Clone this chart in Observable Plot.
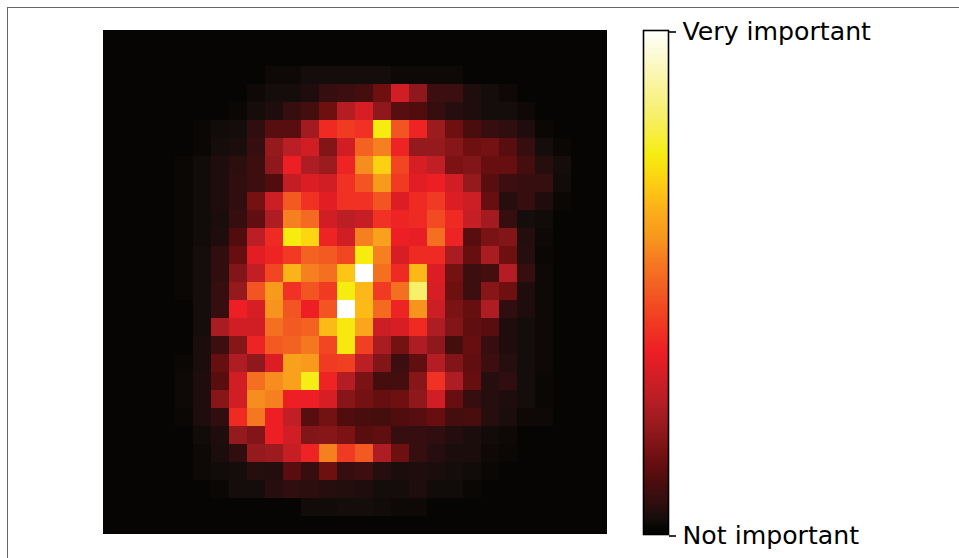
<!DOCTYPE html>
<html>
<head>
<meta charset="utf-8">
<script src="https://cdn.jsdelivr.net/npm/d3@7"></script>
<script src="https://cdn.jsdelivr.net/npm/@observablehq/plot@0.6"></script>
<style>
html,body{margin:0;padding:0;background:#fff;overflow:hidden}
#page{position:relative;width:959px;height:558px;overflow:hidden}
#frame{position:absolute;left:7px;top:7px;width:960px;height:560px;border:1px solid #666;box-sizing:border-box}
#heat,#bar{position:absolute;left:0;top:0}
svg{display:block;background:transparent!important}
</style>
</head>
<body>
<div id="page"><div id="frame"></div><div id="heat"></div><div id="bar"></div></div>
<script>
const tickLabels = ["Not important", "Very important"];
const colorStops = [0, 1, 3, 6, 10, 15, 21, 27, 36, 42, 48, 55, 58, 64, 69, 75, 83, 100];
const colorValues = ["#050503","#060503","#150d0b","#300e0f","#4a0d0e","#6e0f10","#941a1e","#bb1e25","#ed1e24","#f13a22","#f35a22","#f67f20","#f7941d","#fbae1a","#fdcb12","#f6ec10","#f8ef6a","#ffffff"];

const r00 = Array(28).fill(1);
const r01 = Array(28).fill(1);
const r02 = [1,1,1,1,1,1,1,1,1,2,2,3,3,3,3,3,2,2,2,2,1,1,1,1,1,1,1,1];
const r03 = [1,1,1,1,1,1,1,1,2,3,3,4,7,8,9,15,31,20,8,8,4,3,2,1,1,1,1,1];
const r04 = [1,1,1,1,1,1,1,1.5,3,4,7,9,15,26,32,20,12,11,7,5,4,3,3,2,1,1,1,1];
const r05 = [1,1,1,1,1,1.5,2.5,3,6,12,12,23,38.5,42,40,75,47,37,22,15,10,7,6,4,1.5,1,1,1];
const r06 = [1,1,1,1,1,1.5,3,3.5,7,21,27,31,18,31,49.5,55,37,21,21,19,15,16,12,7,3,1.5,1,1];
const r07 = [1,1,1,1,1.5,2.5,4,5.5,8,20,36,25,22,37,57,70,44,32,28,17,18,14,14,9,5,3,1,1];
const r08 = [1,1,1,1,1.5,2.5,4,6,8,11,28,33,31,40,47,59.5,42,34,36,31,21,12,8,7,7,2.5,1,1];
const r09 = [1,1,1,1,1.5,2.5,4,6,16,30,48,40,34,40,40,47,33,38.5,42,33,30,14,5,7,4,1.5,1,1];
const r10 = [1,1,1,1,1.5,2.5,3.5,7,13,25,55,51,31,27,29,40,37,38.5,45,38.5,29,23,7,3,2.5,1,1,1];
const r11 = [1,1,1,1,1.5,2.5,4,11,27,38.5,75,71,37,31,55,61,36,35,52,37,12,17,18,4.5,2,1,1,1];
const r12 = [1,1,1,1,1.5,3,6,14,34,37,42,49.5,48,44,75,55,32,38.5,38.5,24,14,24,15,5,1.5,1,1,1];
const r13 = [1,1,1,1,1.5,3,6,18,28,44,65,55,52,68,100,52,38.5,65.5,33,16,8,9,26,7,2,1,1,1];
const r14 = [1,1,1,1,1.5,3,7,21,47,59.5,40,47,42,75,65.5,42,52,83,32,15,8,19,15,4,2,1,1,1];
const r15 = [1,1,1,1,1,3,7,36,32,58,47,36,47,100,66,51,37,58,30,17,14,25,6,4,2,1,1,1];
const r16 = [1,1,1,1,1,3,24,31,31,52,48,49.5,66,74.5,62,30,32,38.5,25,18,13,12,4,3,2,1,1,1];
const r17 = [1,1,1,1,1,3.5,8,19,37,48,49.5,53.5,44,74.5,43,24,16,25,20,9,14,7,4,3,2,1,1,1];
const r18 = [1,1,1,1,1.5,3.5,14,25,20,33,61,59.5,42,43,27,18,8,13,26,18,13,8,5,3,2,1,1,1];
const r19 = [1,1,1,1,2,4,12,31,52,57,61,75.5,37,26,17,9,9,19,40,25,14,5,6,3,1.5,1,1,1];
const r20 = [1,1,1,1,2,4,19,31,57,55,36,36,32,19,16,14,15,20,31,14,7,5,4,3,1.5,1,1,1];
const r21 = [1,1,1,1,1.5,4,6,38.5,53.5,36,28,12,16,11,10,9,11,12,14,9,10,5,3.5,2,2,1,1,1];
const r22 = [1,1,1,1,1,2.5,4,21,18,36,31,18,19,17,12,13,7,7,6,4.5,3.5,2.5,2,1,1,1,1,1];
const r23 = [1,1,1,1,1,2,3.5,6,21,22,29,37,55,42,48,25,15,7,5,3.5,3.5,2,1.5,1,1,1,1,1];
const r24 = [1,1,1,1,1,2,2.5,3,5,4.5,12,7,15,7,8,5,3.5,4,3.5,3,2.5,1.5,1,1,1,1,1,1];
const r25 = [1,1,1,1,1,1,1.5,3,3,5,6,5.5,5,4.5,4,3,3,4,2.5,2.5,1.5,1,1,1,1,1,1,1];
const r26 = [1,1,1,1,1,1,1,1,1,1,1,2.5,2.5,3,3,2.5,2,2,1,1,1,1,1,1,1,1,1,1];
const r27 = Array(28).fill(1);

const rows = [r00,r01,r02,r03,r04,r05,r06,r07,r08,r09,r10,r11,r12,r13,r14,r15,r16,r17,r18,r19,r20,r21,r22,r23,r24,r25,r26,r27];
const cells = rows.flatMap((row, r) => row.map((v, c) => ({r, c, v})));
const color = {type: "linear", domain: colorStops, range: colorValues, clamp: true};

document.getElementById("heat").append(Plot.plot({
  width: 607, height: 534,
  marginLeft: 103, marginRight: 0, marginTop: 30, marginBottom: 0,
  style: {background: "transparent"},
  x: {domain: d3.range(28), axis: null, padding: 0, round: false},
  y: {domain: d3.range(28), axis: null, padding: 0, round: false},
  color,
  marks: [
    Plot.cell(cells, {x: "c", y: "r", fill: "v", shapeRendering: "crispEdges"})
  ]
}));

const ramp = d3.range(0, 100, 0.25);
document.getElementById("bar").append(Plot.plot({
  width: 959, height: 558,
  marginLeft: 643, marginRight: 291, marginTop: 30, marginBottom: 24,
  style: {background: "transparent"},
  x: {domain: [0, 1], axis: null},
  y: {domain: [0, 100], axis: null},
  color,
  marks: [
    Plot.rect(ramp, {x1: 0, x2: 1, y1: d => d, y2: d => d + 0.25, fill: d => d, shapeRendering: "crispEdges"}),
    Plot.frame({stroke: "#000", strokeWidth: 1.6}),
    Plot.axisY({
      anchor: "right", ticks: [0, 100], tickSize: 7, tickPadding: 7,
      tickFormat: d => tickLabels[d / 100], label: null,
      stroke: "#000", strokeWidth: 1.6, color: "#000",
      fontSize: 25.2, fontFamily: "DejaVu Sans", fill: "#000", dy: 1.5
    })
  ]
}));
</script>
</body>
</html>
